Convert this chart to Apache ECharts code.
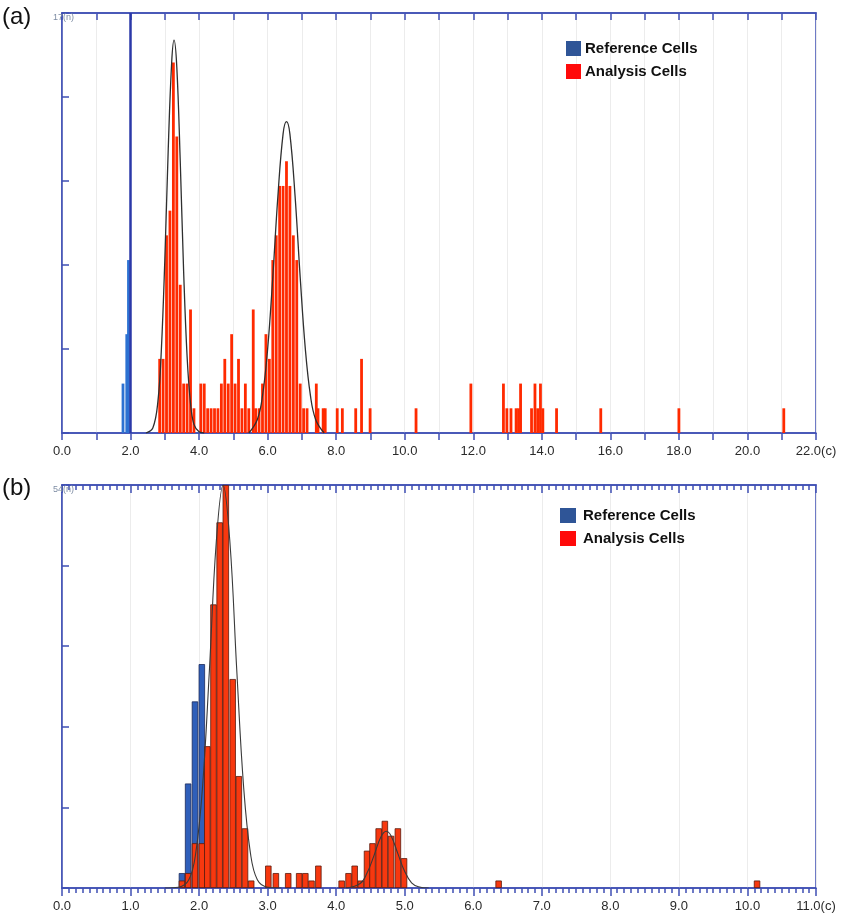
<!DOCTYPE html>
<html>
<head>
<meta charset="utf-8">
<title>DNA ploidy histograms</title>
<script src="https://cdn.jsdelivr.net/npm/echarts@6/dist/echarts.min.js"></script>
<style>
  html, body { margin: 0; padding: 0; background: #fff; }
  #chart { width: 841px; height: 919px; }
</style>
</head>
<body>
<div id="chart"></div>
<script>
// panel (a) - x in c units, y in cell counts
const refCellsA = [[1.78, 2], [1.89, 4], [1.94, 7]];
const refMarkerA = [2.0];
const anaCellsA = [
  [2.85, 3], [2.95, 3], [3.05, 8], [3.15, 9], [3.25, 15], [3.35, 12], [3.45, 6], [3.55, 2],
  [3.65, 2], [3.75, 5], [3.85, 1],
  [4.05, 2], [4.15, 2], [4.25, 1], [4.35, 1], [4.45, 1], [4.55, 1], [4.65, 2], [4.75, 3],
  [4.85, 2], [4.95, 4], [5.05, 2], [5.15, 3], [5.25, 1], [5.35, 2], [5.45, 1], [5.58, 5], [5.65, 1],
  [5.75, 1], [5.85, 2], [5.95, 4], [6.05, 3], [6.15, 7], [6.25, 8], [6.35, 10], [6.45, 10],
  [6.55, 11], [6.65, 10], [6.75, 8], [6.85, 7], [6.95, 2], [7.05, 1], [7.15, 1],
  [7.42, 2], [7.47, 1], [7.62, 1], [7.68, 1], [8.03, 1], [8.18, 1], [8.57, 1], [8.74, 3], [8.99, 1],
  [10.33, 1], [11.93, 2], [12.88, 2], [12.98, 1], [13.1, 1], [13.25, 1], [13.32, 1], [13.38, 2],
  [13.7, 1], [13.8, 2], [13.88, 1], [13.96, 2], [14.03, 1], [14.43, 1], [15.72, 1], [18.0, 1], [21.06, 1]
];
const fitA1X = [2.45, 2.65, 2.8, 2.9, 3.0, 3.1, 3.2, 3.27, 3.35, 3.45, 3.55, 3.65, 3.75, 3.85, 4.0, 4.15];
const fitA1Y = [0, 0.2, 1.3, 3.4, 7.0, 11.5, 15.0, 15.9, 14.8, 11.0, 6.5, 3.1, 1.2, 0.35, 0.05, 0];
const fitA2X = [5.45, 5.7, 5.85, 6.0, 6.15, 6.3, 6.45, 6.55, 6.65, 6.8, 6.95, 7.1, 7.25, 7.4, 7.65];
const fitA2Y = [0, 0.55, 1.5, 3.4, 6.3, 9.6, 12.1, 12.6, 12.1, 9.6, 6.3, 3.4, 1.5, 0.55, 0];

// panel (b)
const refCellsB = [[1.75, 2], [1.84, 14], [1.94, 25], [2.04, 30]];
const anaCellsB = [
  [1.75, 1], [1.84, 2], [1.94, 6], [2.04, 6], [2.12, 19], [2.21, 38], [2.30, 49], [2.39, 54],
  [2.49, 28], [2.58, 15], [2.67, 8], [2.76, 1],
  [3.01, 3], [3.12, 2], [3.30, 2], [3.46, 2], [3.55, 2], [3.64, 1], [3.74, 3],
  [4.08, 1], [4.18, 2], [4.27, 3], [4.36, 1], [4.45, 5], [4.53, 6], [4.62, 8], [4.71, 9],
  [4.80, 7], [4.90, 8], [4.99, 4],
  [6.37, 1], [10.14, 1]
];
const fitB1X = [1.5, 1.7, 1.85, 1.95, 2.05, 2.15, 2.25, 2.35, 2.45, 2.55, 2.65, 2.75, 2.85, 3.0, 3.2];
const fitB1Y = [0, 0.1, 1.1, 4.6, 13.5, 29.1, 46.3, 54, 46.3, 29.1, 13.5, 4.6, 1.1, 0.1, 0];
const fitB2X = [4.15, 4.35, 4.45, 4.55, 4.65, 4.73, 4.8, 4.9, 5.0, 5.1, 5.2, 5.35];
const fitB2Y = [0, 0.6, 2.0, 4.3, 6.8, 7.6, 7.0, 4.6, 2.2, 0.7, 0.17, 0];

const axisMaxA = [22, 17];
const axisMaxB = [11, 54];
const legendNames = ['Reference Cells', 'Analysis Cells'];

const axisColor = '#3f4fb4';
const font = 'Liberation Sans';

function zip(xs, ys) {
  return xs.map((x, i) => [x, ys[i]]);
}

function xLabel(max, step) {
  return function (v) {
    let r = Math.round(v * 10) / 10;
    if (Math.round(r) % step !== 0) return '';
    return r === max ? r.toFixed(1) + '(c)' : r.toFixed(1);
  };
}

function yLabel(max) {
  return function (v) {
    return Math.abs(v - max) < 0.01 ? max + '(n)' : '';
  };
}

const baseX = {
  type: 'value',
  axisLine: { show: true, onZero: false, lineStyle: { color: axisColor, width: 1.5 } },
  axisTick: { show: true, length: 7, lineStyle: { color: axisColor, width: 1.5 } },
  splitLine: { show: true, lineStyle: { color: '#ececec', width: 1 } },
  axisLabel: { color: '#2a2a2a', fontSize: 13, fontFamily: font, margin: 12 }
};

let myChart = echarts.init(document.getElementById('chart'));

let option = {
  animation: false,
  backgroundColor: '#fff',
  grid: [
    { left: 62, right: 25, top: 13, height: 420, show: true, borderColor: axisColor, borderWidth: 1.5 },
    { left: 62, right: 25, top: 485, height: 403, show: true, borderColor: axisColor, borderWidth: 1.5 }
  ],
  xAxis: [
    Object.assign({}, baseX, {
      gridIndex: 0, position: 'bottom', min: 0, max: axisMaxA[0], interval: 1,
      axisLabel: Object.assign({}, baseX.axisLabel, { formatter: xLabel(axisMaxA[0], 2) })
    }),
    Object.assign({}, baseX, {
      gridIndex: 0, position: 'top', min: 0, max: axisMaxA[0], interval: 1,
      axisTick: { show: true, inside: true, length: 7, lineStyle: { color: axisColor, width: 1.5 } },
      axisLabel: { show: false }, splitLine: { show: false }
    }),
    Object.assign({}, baseX, {
      gridIndex: 1, position: 'bottom', min: 0, max: axisMaxB[0], interval: 1,
      axisTick: { show: true, length: 8, lineStyle: { color: axisColor, width: 1.5 } },
      minorTick: { show: true, splitNumber: 10, length: 5, lineStyle: { color: axisColor, width: 1.5 } },
      axisLabel: Object.assign({}, baseX.axisLabel, { formatter: xLabel(axisMaxB[0], 1) })
    }),
    Object.assign({}, baseX, {
      gridIndex: 1, position: 'top', min: 0, max: axisMaxB[0], interval: 1,
      axisTick: { show: true, inside: true, length: 8, lineStyle: { color: axisColor, width: 1.5 } },
      minorTick: { show: true, splitNumber: 10, length: 5, lineStyle: { color: axisColor, width: 1.5 } },
      axisLabel: { show: false }, splitLine: { show: false }
    })
  ],
  yAxis: [
    {
      type: 'value', gridIndex: 0, min: 0, max: axisMaxA[1], interval: axisMaxA[1] / 5,
      axisLine: { show: true, lineStyle: { color: axisColor, width: 1.5 } },
      axisTick: { show: true, inside: true, length: 7, lineStyle: { color: axisColor, width: 1.5 } },
      splitLine: { show: false },
      axisLabel: { formatter: yLabel(axisMaxA[1]), color: '#7d8ca3', fontSize: 9, fontFamily: font,
        align: 'left', margin: 9, verticalAlign: 'top' }
    },
    {
      type: 'value', gridIndex: 1, min: 0, max: axisMaxB[1], interval: axisMaxB[1] / 5,
      axisLine: { show: true, lineStyle: { color: axisColor, width: 1.5 } },
      axisTick: { show: true, inside: true, length: 7, lineStyle: { color: axisColor, width: 1.5 } },
      splitLine: { show: false },
      axisLabel: { formatter: yLabel(axisMaxB[1]), color: '#7d8ca3', fontSize: 9, fontFamily: font,
        align: 'left', margin: 9, verticalAlign: 'top' }
    }
  ],
  legend: [
    {
      left: 566, top: 41, orient: 'vertical', padding: 0, itemGap: 8, itemWidth: 15, itemHeight: 15,
      icon: 'rect', selectedMode: false,
      textStyle: { fontSize: 15, fontWeight: 'bold', color: '#111', fontFamily: font, padding: [0, 0, 0, -1] },
      data: [
        { name: legendNames[0], itemStyle: { color: '#2f5597', borderWidth: 0 } },
        { name: legendNames[1], itemStyle: { color: '#ff0a0a', borderWidth: 0 } }
      ]
    },
    {
      left: 560, top: 508, orient: 'vertical', padding: 0, itemGap: 8, itemWidth: 16, itemHeight: 15,
      icon: 'rect', selectedMode: false,
      textStyle: { fontSize: 15, fontWeight: 'bold', color: '#111', fontFamily: font, padding: [0, 0, 0, 2] },
      data: [
        { name: legendNames[0], itemStyle: { color: '#2f5597', borderWidth: 0 } },
        { name: legendNames[1], itemStyle: { color: '#ff0a0a', borderWidth: 0 } }
      ]
    }
  ],
  graphic: [
    { type: 'text', left: 2, top: 5, style: { text: '(a)', fontSize: 24, fontFamily: font, fill: '#111' } },
    { type: 'text', left: 2, top: 476, style: { text: '(b)', fontSize: 24, fontFamily: font, fill: '#111' } }
  ],
  series: [
    {
      name: legendNames[0], type: 'bar', xAxisIndex: 0, yAxisIndex: 0,
      data: refCellsA, barWidth: 2.8, barGap: '-100%',
      itemStyle: { color: '#2d72d2' },
      markLine: {
        silent: true, symbol: 'none', label: { show: false },
        lineStyle: { color: '#2b38a8', width: 2.5, type: 'solid' },
        data: refMarkerA.map(v => ({ xAxis: v }))
      }
    },
    {
      name: legendNames[1], type: 'bar', xAxisIndex: 0, yAxisIndex: 0,
      data: anaCellsA, barWidth: 2.8, barGap: '-100%',
      itemStyle: { color: '#ff2a00' }
    },
    {
      type: 'line', xAxisIndex: 0, yAxisIndex: 0, data: zip(fitA1X, fitA1Y),
      smooth: 0.4, symbol: 'none', z: 5, lineStyle: { color: '#2f2f2f', width: 1.3 }
    },
    {
      type: 'line', xAxisIndex: 0, yAxisIndex: 0, data: zip(fitA2X, fitA2Y),
      smooth: 0.4, symbol: 'none', z: 5, lineStyle: { color: '#2f2f2f', width: 1.3 }
    },
    {
      name: legendNames[0], type: 'bar', xAxisIndex: 2, yAxisIndex: 1,
      data: refCellsB, barWidth: 6.4, barGap: '-100%',
      itemStyle: { color: '#2f5fba', borderColor: '#1c2a5a', borderWidth: 0.8 }
    },
    {
      name: legendNames[1], type: 'bar', xAxisIndex: 2, yAxisIndex: 1,
      data: anaCellsB, barWidth: 6.4, barGap: '-100%',
      itemStyle: { color: '#f7380f', borderColor: '#5a1a0e', borderWidth: 0.8 }
    },
    {
      type: 'line', xAxisIndex: 2, yAxisIndex: 1, data: zip(fitB1X, fitB1Y),
      smooth: 0.4, symbol: 'none', z: 5, lineStyle: { color: '#3a3a3a', width: 1.1 }
    },
    {
      type: 'line', xAxisIndex: 2, yAxisIndex: 1, data: zip(fitB2X, fitB2Y),
      smooth: 0.4, symbol: 'none', z: 5, lineStyle: { color: '#3a3a3a', width: 1.1 }
    }
  ]
};

myChart.setOption(option);
window.onresize = function () {
  myChart.resize();
};
</script>
</body>
</html>
